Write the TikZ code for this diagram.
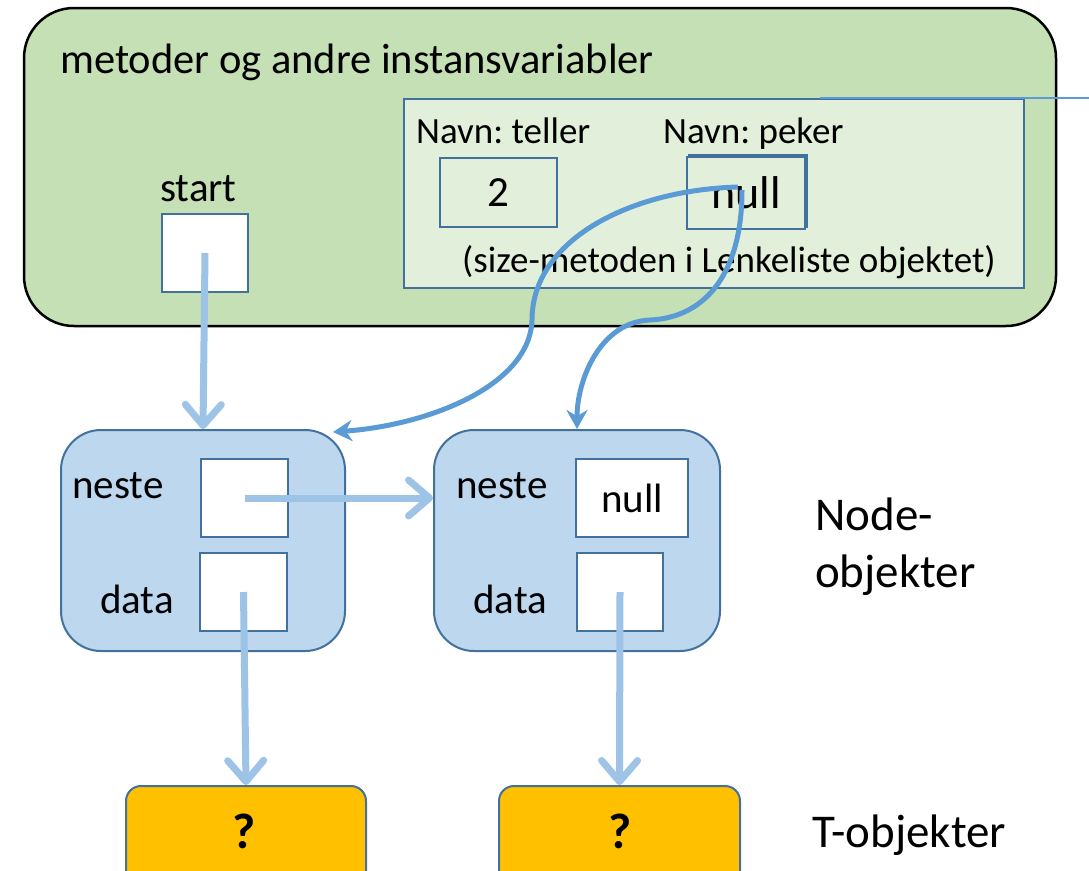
\documentclass[tikz,border=0pt]{standalone}
\usepackage{fontspec}
\setmainfont{Carlito}
\frenchspacing
\usetikzlibrary{arrows.meta,calc}
\definecolor{outerg}{HTML}{C5E0B4}
\definecolor{innerg}{HTML}{E2EFDA}
\definecolor{bord}{HTML}{41719C}
\definecolor{lightb}{HTML}{9DC3E6}
\definecolor{darkb}{HTML}{5B9BD5}
\definecolor{nodeb}{HTML}{BDD7EE}
\definecolor{gold}{HTML}{FFC000}
\tikzset{
  cell/.style={draw=bord, line width=2pt, fill=white, inner sep=0pt},
  objbox/.style={draw=bord, line width=2pt, fill=nodeb, rounded corners=40pt, inner sep=0pt},
  tbox/.style={draw=bord, line width=2pt, fill=gold, rounded corners=15pt, inner sep=0pt},
  lbl/.style={anchor=base west, inner sep=0pt, font=\fontsize{41}{49}\selectfont},
  small/.style={anchor=base west, inner sep=0pt, font=\fontsize{37}{44}\selectfont},
  big/.style={anchor=base west, inner sep=0pt, font=\fontsize{47}{58}\selectfont},
  lightarrow/.style={draw=lightb, line width=7pt, -{Straight Barb[length=21pt,width=36pt,round]}},
  darkarrow/.style={draw=darkb, line width=5pt, -{Stealth[length=19pt,width=21pt]}},
}
\begin{document}
\begin{tikzpicture}[x=1pt,y=-1pt]
\useasboundingbox (0,0) rectangle (1089,870);
\clip (0,0) rectangle (1089,870);
% outer green box
\node[draw=black, line width=2.5pt, fill=outerg, rounded corners=50pt, minimum width=1032pt, minimum height=318pt, inner sep=0pt] (outer) at (540,167) {};
\node[lbl, font=\fontsize{42.5}{50}\selectfont] (title) at (60,73) {metoder og andre instansvariabler};
% inner box
\node[draw=bord, line width=2.5pt, fill=innerg, minimum width=620pt, minimum height=189pt, inner sep=0pt] (inner) at (714,193.5) {};
\coordinate (lineA) at (820,98);
\coordinate (lineB) at (1089,98);
\draw[darkb, line width=2.5pt] (lineA) -- (lineB);
\node[small] (tellerlbl) at (416,143) {Navn: teller};
\node[small] (pekerlbl) at (663,143) {Navn: peker};
\node[cell, fill=innerg, minimum width=117pt, minimum height=69pt, font=\fontsize{43}{50}\selectfont] (teller) at (498.5,192.5) {2};
\draw[bord, line width=2pt] (689,155) rectangle (807,227);
\node[cell, fill=innerg, minimum width=118pt, minimum height=72pt, font=\fontsize{46}{55}\selectfont] (peker) at (746,193) {null};
\node[small] (sizetxt) at (462,272) {(size-metoden i Lenkeliste objektet)};
% start
\node[lbl] (startlbl) at (160,201) {start};
\node[cell, minimum width=86pt, minimum height=78pt] (start) at (205,253) {};
% node objects
\node[objbox, minimum width=284pt, minimum height=221pt] (node1) at (203,540.5) {};
\node[objbox, minimum width=286pt, minimum height=221pt] (node2) at (577,540.5) {};
\node[lbl] (n1nestelbl) at (72,498) {neste};
\node[lbl] (n1datalbl) at (100,613) {data};
\node[lbl] (n2nestelbl) at (456,498) {neste};
\node[lbl] (n2datalbl) at (473,613) {data};
\node[cell, minimum width=87pt, minimum height=78pt] (n1neste) at (244.5,498) {};
\node[cell, minimum width=87pt, minimum height=78pt] (n1data) at (243.5,592) {};
\node[cell, minimum width=112pt, minimum height=78pt, font=\fontsize{41}{49}\selectfont] (n2neste) at (632,498) {null};
\node[cell, minimum width=86pt, minimum height=78pt] (n2data) at (620,592) {};
% T objects
\node[tbox, minimum width=240pt, minimum height=100pt] (t1) at (246,836) {};
\node[tbox, minimum width=241pt, minimum height=100pt] (t2) at (619.5,836) {};
\node[font=\fontsize{50}{60}\selectfont\bfseries, inner sep=0pt] (q1) at (244,831) {?};
\node[font=\fontsize{50}{60}\selectfont\bfseries, inner sep=0pt] (q2) at (620,831) {?};
% side labels
\node[big] (nodeobj1) at (815,530) {Node-};
\node[big] (nodeobj2) at (815,587) {objekter};
\node[big] (tobj) at (812,847) {T-objekter};
% light arrows
\draw[lightarrow] (start.center) -- (node1.north);
\draw[lightarrow] (n1neste.center) -- (n1neste.center -| node2.west);
\draw[lightarrow] (n1data.center) -- (t1.north);
\draw[lightarrow] (n2data.center) -- (t2.north);
% dark curves
\draw[darkarrow] ($(peker.center)+(-8,-6)$) .. controls (630,190) and (532,240) .. (532,320)
  .. controls (530,385) and (430,425) .. ($(node1.north east)+(-13,3)$);
\draw[darkarrow] ($(peker.center)+(-4,-3)$) .. controls (742,280) and (700,318) .. (650,320)
  .. controls (600,322) and (577,380) .. (node2.north);
\end{tikzpicture}
\end{document}
